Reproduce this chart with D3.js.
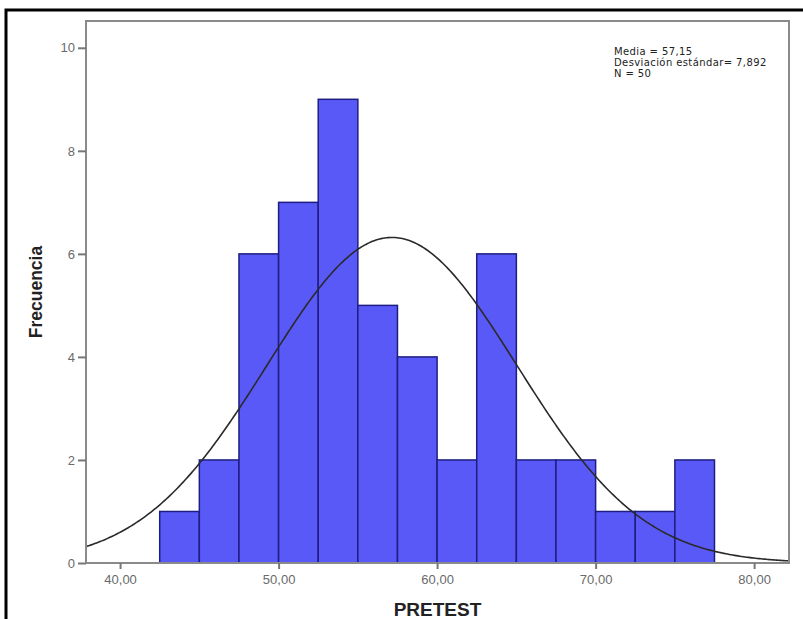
<!DOCTYPE html>
<html>
<head>
<meta charset="utf-8">
<script src="https://cdn.jsdelivr.net/npm/d3@7"></script>
<style>
  body { margin: 0; background: #fff; }
  svg { display: block; }
</style>
</head>
<body>
<div id="chart"></div>
<script>
// histogram bins (PRETEST), width 2.5
const binStarts = [42.5, 45, 47.5, 50, 52.5, 55, 57.5, 60, 62.5, 65, 67.5, 70, 72.5, 75];
const binCounts = [1, 2, 6, 7, 9, 5, 4, 2, 6, 2, 2, 1, 1, 2];
const binWidth = 2.5;
const xTicks = [40, 50, 60, 70, 80];
const yTicks = [0, 2, 4, 6, 8, 10];
const stats = { mean: 57.15, sd: 7.892, n: 50 };
const legendLines = ["Media = 57,15", "Desviación estándar= 7,892", "N = 50"];

const width = 803, height = 619;
const plot = { left: 86, top: 21, right: 789, bottom: 563 };

const svg = d3.select("#chart").append("svg")
  .attr("width", width)
  .attr("height", height);

// outer black frame (only top & left visible)
svg.append("rect")
  .attr("x", 6).attr("y", 10)
  .attr("width", width).attr("height", height)
  .attr("fill", "#fff")
  .attr("stroke", "#000")
  .attr("stroke-width", 3);

const x = d3.scaleLinear().domain([37.85, 82.2]).range([plot.left, plot.right]);
const y = d3.scaleLinear().domain([0, 10.52]).range([plot.bottom, plot.top]);

svg.append("clipPath").attr("id", "plotClip")
  .append("rect")
  .attr("x", plot.left).attr("y", plot.top)
  .attr("width", plot.right - plot.left).attr("height", plot.bottom - plot.top);

const bins = binStarts.map((s, i) => ({ x0: s, x1: s + binWidth, count: binCounts[i] }));

// bars
svg.append("g")
  .selectAll("rect")
  .data(bins)
  .enter()
  .append("rect")
  .attr("x", d => x(d.x0))
  .attr("y", d => y(d.count))
  .attr("width", d => x(d.x1) - x(d.x0))
  .attr("height", d => y(0) - y(d.count))
  .attr("fill", "#5959f7")
  .attr("stroke", "#1e1e82")
  .attr("stroke-width", 1.5);

// normal curve
const pdf = v => stats.n * binWidth / (stats.sd * Math.sqrt(2 * Math.PI)) *
  Math.exp(-0.5 * Math.pow((v - stats.mean) / stats.sd, 2));
const curvePts = d3.range(0, 401).map(i => {
  const v = x.domain()[0] + (x.domain()[1] - x.domain()[0]) * i / 400;
  return [v, pdf(v)];
});
svg.append("path")
  .datum(curvePts)
  .attr("clip-path", "url(#plotClip)")
  .attr("d", d3.line().x(d => x(d[0])).y(d => y(d[1])))
  .attr("fill", "none")
  .attr("stroke", "#2a2a2a")
  .attr("stroke-width", 1.6);

// plot frame
svg.append("rect")
  .attr("x", plot.left).attr("y", plot.top)
  .attr("width", plot.right - plot.left).attr("height", plot.bottom - plot.top)
  .attr("fill", "none")
  .attr("stroke", "#8a8a8a")
  .attr("stroke-width", 2);

// axes
const fmt = d => d.toFixed(2).replace(".", ",");
const xAxis = svg.append("g")
  .attr("transform", `translate(0,${plot.bottom})`)
  .call(d3.axisBottom(x).tickValues(xTicks).tickFormat(fmt).tickSize(6).tickPadding(6));
const yAxis = svg.append("g")
  .attr("transform", `translate(${plot.left},0)`)
  .call(d3.axisLeft(y).tickValues(yTicks).tickSize(8).tickPadding(3));

[xAxis, yAxis].forEach(a => {
  a.select(".domain").remove();
  a.selectAll(".tick line").attr("stroke", "#777").attr("stroke-width", 2);
  a.selectAll(".tick text")
    .attr("fill", "#6a6a6a")
    .attr("font-family", "Liberation Sans, Arial, sans-serif")
    .attr("font-size", 13);
});

// axis titles
svg.append("text")
  .attr("x", (plot.left + plot.right) / 2)
  .attr("y", 616)
  .attr("text-anchor", "middle")
  .attr("font-family", "Liberation Sans, Arial, sans-serif")
  .attr("font-weight", "bold")
  .attr("font-size", 19)
  .attr("fill", "#222")
  .text("PRETEST");

svg.append("text")
  .attr("transform", `translate(42,${(plot.top + plot.bottom) / 2}) rotate(-90)`)
  .attr("text-anchor", "middle")
  .attr("font-family", "Liberation Sans, Arial, sans-serif")
  .attr("font-weight", "bold")
  .attr("font-size", 17.5)
  .attr("fill", "#222")
  .text("Frecuencia");

// stats legend (clipped by the plot frame, like the original)
svg.append("g")
  .attr("clip-path", "url(#plotClip)")
  .selectAll("text")
  .data(legendLines)
  .enter()
  .append("text")
  .attr("x", 614)
  .attr("y", (d, i) => 55 + i * 11)
  .attr("font-family", "DejaVu Sans, sans-serif")
  .attr("font-size", 10)
  .attr("letter-spacing", 0.4)
  .attr("fill", "#222")
  .text(d => d);
</script>
</body>
</html>
